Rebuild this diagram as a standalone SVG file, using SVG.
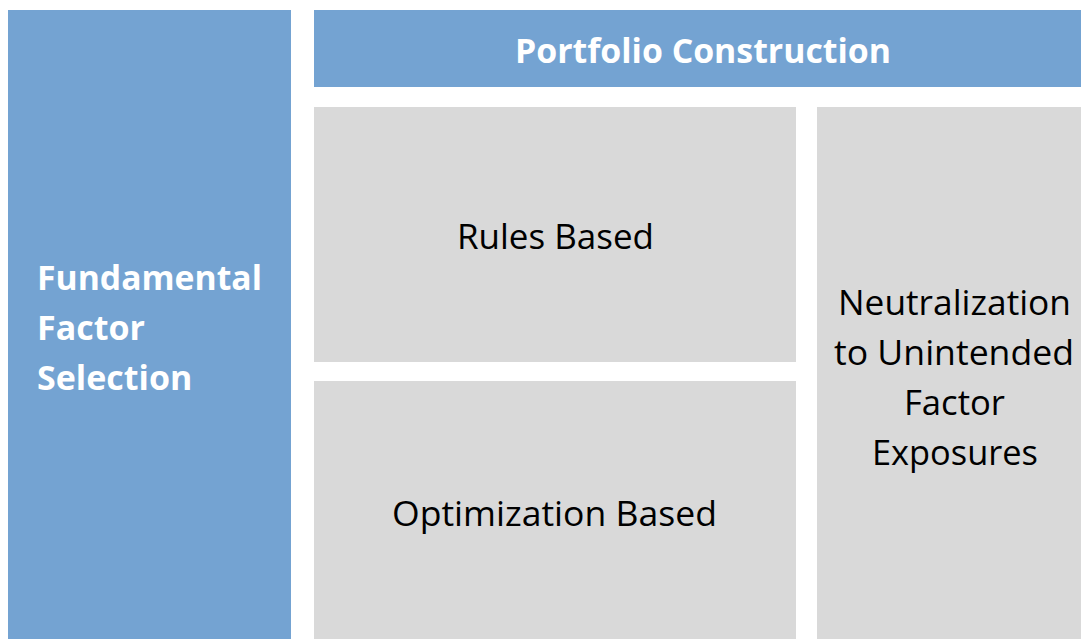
<svg xmlns="http://www.w3.org/2000/svg" width="1081" height="639" viewBox="0 0 1081 639">
<style>
.blue{fill:#74A3D2}
.gray{fill:#D9D9D9}
.hw{font-family:"Open Sans","Liberation Sans",sans-serif;font-weight:bold;font-size:34px;fill:#FFFFFF}
.bk{font-family:"Open Sans","Liberation Sans",sans-serif;font-size:34px;fill:#000000}
</style>
<rect width="1081" height="639" fill="#FFFFFF"/>
<g id="fundamental">
<rect class="blue" x="8" y="10" width="283" height="629"/>
<text class="hw" x="37" y="290" textLength="225" lengthAdjust="spacingAndGlyphs">Fundamental</text>
<text class="hw" x="37" y="340">Factor</text>
<text class="hw" x="37" y="390">Selection</text>
</g>
<g id="portfolio">
<rect class="blue" x="314" y="10" width="767" height="77"/>
<text class="hw" x="703" y="63" text-anchor="middle" textLength="376" lengthAdjust="spacingAndGlyphs">Portfolio Construction</text>
</g>
<g id="rules">
<rect class="gray" x="314" y="107" width="482" height="255"/>
<text class="bk" x="555.5" y="249" text-anchor="middle" textLength="197" lengthAdjust="spacingAndGlyphs">Rules Based</text>
</g>
<g id="optimization">
<rect class="gray" x="314" y="381" width="482" height="258"/>
<text class="bk" x="554.5" y="526" text-anchor="middle" textLength="325" lengthAdjust="spacingAndGlyphs">Optimization Based</text>
</g>
<g id="neutralization">
<rect class="gray" x="817" y="107" width="264" height="532"/>
<text class="bk" x="954.5" y="315" text-anchor="middle" textLength="233" lengthAdjust="spacingAndGlyphs">Neutralization</text>
<text class="bk" x="954" y="365" text-anchor="middle" textLength="240" lengthAdjust="spacingAndGlyphs">to Unintended</text>
<text class="bk" x="954.5" y="415" text-anchor="middle" textLength="101" lengthAdjust="spacingAndGlyphs">Factor</text>
<text class="bk" x="955" y="465" text-anchor="middle" textLength="166" lengthAdjust="spacingAndGlyphs">Exposures</text>
</g>
<g id="connectors"></g>
</svg>
